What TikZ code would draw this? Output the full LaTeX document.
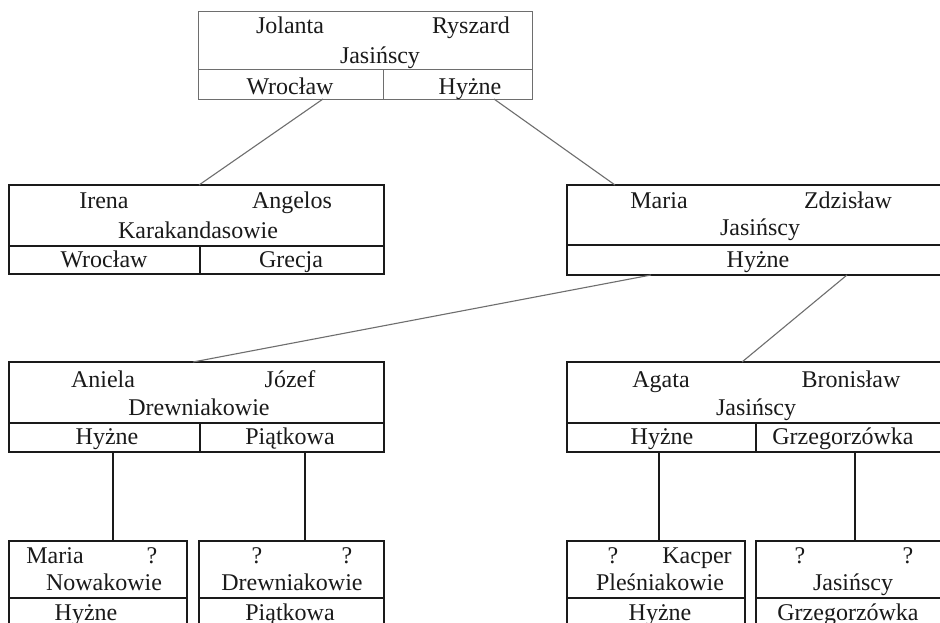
\documentclass[tikz,border=0pt]{standalone}
\usepackage{fontspec}
\setmainfont{Liberation Serif}
\definecolor{ink}{HTML}{1A1A1A}
\definecolor{greyline}{HTML}{6E6E6E}
\tikzset{
  card/.style={draw=ink, line width=1.8pt, rectangle, inner sep=0pt, outer sep=0pt, anchor=north west},
  topcard/.style={card, draw=greyline, line width=1pt},
  sepline/.style={draw=ink, line width=1.8pt},
  topsep/.style={draw=greyline, line width=1pt},
  conn/.style={draw=greyline, line width=1.1pt},
  stem/.style={draw=ink, line width=1.8pt},
  lbl/.style={font=\fontsize{24}{28}\selectfont, text=ink, anchor=base, inner sep=0pt}
}
\begin{document}
\begin{tikzpicture}[x=1pt, y=-1pt]
\useasboundingbox (0,0) rectangle (940,622);
\clip (0,0) rectangle (940,622);
\fill[white] (0,0) rectangle (940,622);

% ---------- top box ----------
\node[topcard, minimum width=334pt, minimum height=88pt] (b0) at (198,11) {};
\draw[topsep] (b0.west |- 0,69) -- (b0.east |- 0,69);
\draw[topsep] (383,69) -- (b0.south -| 383,0);
\node[lbl] (b0n1) at (290,33) {Jolanta};
\node[lbl] (b0n2) at (471,33) {Ryszard};
\node[lbl] (b0f) at (380,63) {Jasińscy};
\node[lbl] (b0c1) at (290,94) {Wrocław};
\node[lbl] (b0c2) at (470,94) {Hyżne};

% ---------- row 2 left ----------
\node[card, minimum width=375pt, minimum height=89pt] (b1) at (9,185) {};
\draw[sepline] (b1.west |- 0,246) -- (b1.east |- 0,246);
\draw[sepline] (200,246) -- (b1.south -| 200,0);
\node[lbl] (b1n1) at (104,208) {Irena};
\node[lbl] (b1n2) at (292,208) {Angelos};
\node[lbl] (b1f) at (198,238) {Karakandasowie};
\node[lbl] (b1c1) at (104,267) {Wrocław};
\node[lbl] (b1c2) at (291,267) {Grecja};

% ---------- row 2 right ----------
\node[card, minimum width=400pt, minimum height=90pt] (b2) at (567,185) {};
\draw[sepline] (b2.west |- 0,245) -- (b2.east |- 0,245);
\node[lbl] (b2n1) at (659,208) {Maria};
\node[lbl] (b2n2) at (848,208) {Zdzisław};
\node[lbl] (b2f) at (760,235) {Jasińscy};
\node[lbl] (b2c) at (758,267) {Hyżne};

% ---------- row 3 left ----------
\node[card, minimum width=375pt, minimum height=90pt] (b3) at (9,362) {};
\draw[sepline] (b3.west |- 0,423) -- (b3.east |- 0,423);
\draw[sepline] (200,423) -- (b3.south -| 200,0);
\node[lbl] (b3n1) at (103,387) {Aniela};
\node[lbl] (b3n2) at (290,387) {Józef};
\node[lbl] (b3f) at (199,415) {Drewniakowie};
\node[lbl] (b3c1) at (107,444) {Hyżne};
\node[lbl] (b3c2) at (290,444) {Piątkowa};

% ---------- row 3 right ----------
\node[card, minimum width=400pt, minimum height=90pt] (b4) at (567,362) {};
\draw[sepline] (b4.west |- 0,423) -- (b4.east |- 0,423);
\draw[sepline] (756,423) -- (b4.south -| 756,0);
\node[lbl] (b4n1) at (661,387) {Agata};
\node[lbl] (b4n2) at (851,387) {Bronisław};
\node[lbl] (b4f) at (756,415) {Jasińscy};
\node[lbl] (b4c1) at (662,444) {Hyżne};
\node[lbl] (b4c2) at (843,444) {Grzegorzówka};

% ---------- row 4 ----------
\node[card, minimum width=178pt, minimum height=110pt] (b5) at (9,541) {};
\draw[sepline] (b5.west |- 0,598) -- (b5.east |- 0,598);
\node[lbl] (b5n1) at (55,563) {Maria};
\node[lbl] (b5n2) at (152,563) {?};
\node[lbl] (b5f) at (104,590) {Nowakowie};
\node[lbl] (b5c) at (86,620) {Hyżne};

\node[card, minimum width=185pt, minimum height=110pt] (b6) at (199,541) {};
\draw[sepline] (b6.west |- 0,598) -- (b6.east |- 0,598);
\node[lbl] (b6n1) at (257,563) {?};
\node[lbl] (b6n2) at (347,563) {?};
\node[lbl] (b6f) at (292,590) {Drewniakowie};
\node[lbl] (b6c) at (290,620) {Piątkowa};

\node[card, minimum width=178pt, minimum height=110pt] (b7) at (567,541) {};
\draw[sepline] (b7.west |- 0,598) -- (b7.east |- 0,598);
\node[lbl] (b7n1) at (613,563) {?};
\node[lbl] (b7n2) at (697,563) {Kacper};
\node[lbl] (b7f) at (660,590) {Pleśniakowie};
\node[lbl] (b7c) at (660,620) {Hyżne};

\node[card, minimum width=210pt, minimum height=110pt] (b8) at (756,541) {};
\draw[sepline] (b8.west |- 0,598) -- (b8.east |- 0,598);
\node[lbl] (b8n1) at (800,563) {?};
\node[lbl] (b8n2) at (908,563) {?};
\node[lbl] (b8f) at (853,590) {Jasińscy};
\node[lbl] (b8c) at (848,620) {Grzegorzówka};

% ---------- connectors ----------
\draw[conn] (b0.south -| 323,0) -- (b1.north -| 199,0);
\draw[conn] (b0.south -| 494,0) -- (b2.north -| 615,0);
\draw[conn] (b2.south -| 651,0) -- (b3.north -| 193,0);
\draw[conn] (b2.south -| 847,0) -- (b4.north -| 742,0);
\draw[stem] (b3.south -| 113,0) -- (b5.north -| 113,0);
\draw[stem] (b3.south -| 305,0) -- (b6.north -| 305,0);
\draw[stem] (b4.south -| 659,0) -- (b7.north -| 659,0);
\draw[stem] (b4.south -| 855,0) -- (b8.north -| 855,0);
\end{tikzpicture}
\end{document}
